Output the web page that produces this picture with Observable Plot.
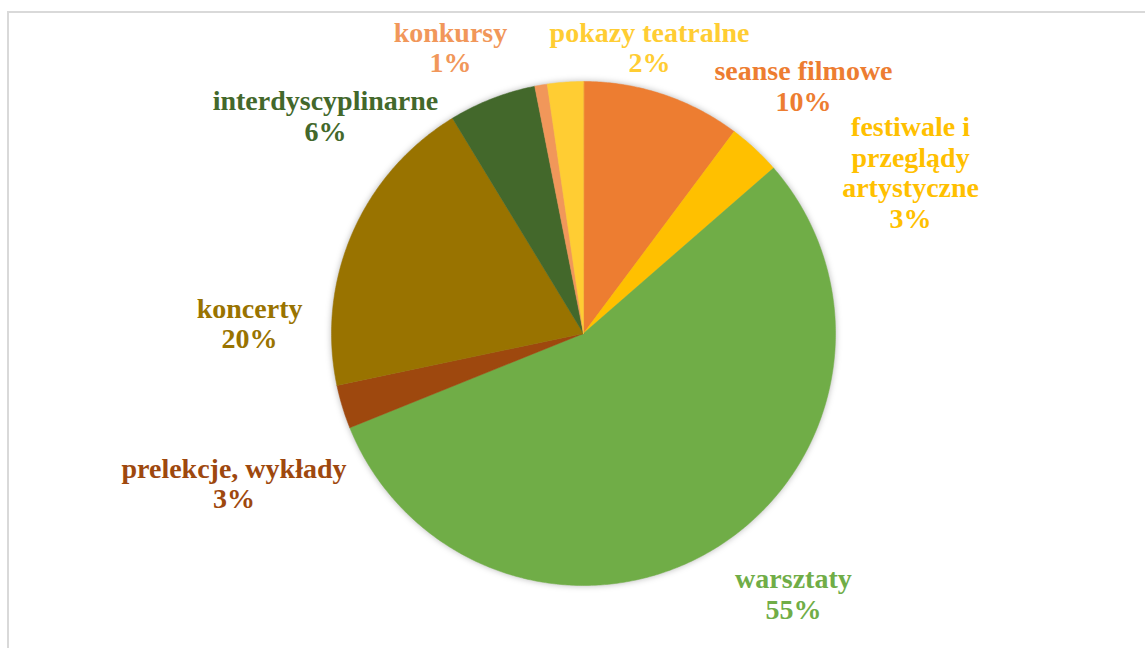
<!DOCTYPE html>
<html>
<head>
<meta charset="utf-8">
<script src="https://cdn.jsdelivr.net/npm/d3@7"></script>
<script src="https://cdn.jsdelivr.net/npm/@observablehq/plot@0.6"></script>
<style>
  html, body { margin: 0; padding: 0; background: #fff; overflow: hidden; }
  #wrap { position: relative; width: 1145px; height: 648px; }
  #frame { position: absolute; left: 7px; top: 11px; width: 1200px; height: 700px; border: 2px solid #d9d9d9; box-sizing: border-box; }
  #chart { position: absolute; left: 0; top: 0; }
  #chart g[aria-label="line"] { filter: drop-shadow(0px 0px 3px rgba(0,0,0,0.28)); }
</style>
</head>
<body>
<div id="wrap"><div id="frame"></div><div id="chart"></div></div>
<script>
// ---- data ----
const categories = ["seanse filmowe", "festiwale i przeglądy artystyczne", "warsztaty", "prelekcje, wykłady", "koncerty", "interdyscyplinarne", "konkursy", "pokazy teatralne"];
const values = [10.2, 3.4, 55.3, 2.8, 19.6, 5.6, 0.8, 2.3];
const colors = ["#ED7D31", "#FFC000", "#70AD47", "#9E480E", "#997300", "#43682B", "#F1975A", "#FFCD33"];

// ---- layout (label anchors in pie-radius units, relative to centre) ----
const labelAnchors = [[0.873, 0.984], [1.298, 0.639], [0.833, -1.032], [-1.387, -0.595], [-1.325, 0.040], [-1.024, 0.865], [-0.528, 1.135], [0.262, 1.135]];
const labelWrap = {"festiwale i przeglądy artystyczne": "festiwale i\nprzeglądy\nartystyczne"};

const W = 1145, H = 648, R = 252, CX = 583, CY = 333;

const rows = categories.map((c, i) => ({cat: c, value: values[i]}));
const total = d3.sum(values);
const arcs = d3.pie().sort(null).value(d => d.value)(rows);

const pts = [];
for (const a of arcs) {
  pts.push({cat: a.data.cat, x: 0, y: 0});
  const n = Math.max(2, Math.ceil((a.endAngle - a.startAngle) / (Math.PI / 360)));
  for (let k = 0; k <= n; k++) {
    const t = a.startAngle + (a.endAngle - a.startAngle) * k / n;
    pts.push({cat: a.data.cat, x: Math.sin(t), y: Math.cos(t)});
  }
}

const fmt = d3.format(".0%");
const labels = rows.map((r, i) => ({
  cat: r.cat,
  x: labelAnchors[i][0],
  y: labelAnchors[i][1],
  text: (labelWrap[r.cat] || r.cat) + "\n" + fmt(r.value / total)
}));

const chart = Plot.plot({
  width: W, height: H,
  margin: 0,
  x: {domain: [-CX / R, (W - CX) / R], axis: null},
  y: {domain: [-(H - CY) / R, CY / R], axis: null},
  color: {domain: categories, range: colors},
  style: {background: "transparent"},
  marks: [
    Plot.line(pts, {x: "x", y: "y", z: "cat", fill: "cat", stroke: "cat", strokeWidth: 0.5, curve: "linear-closed"}),
    Plot.text(labels, {x: "x", y: "y", text: "text", fill: "cat", fontSize: 28, fontWeight: "bold", fontFamily: "'Liberation Serif', serif", lineHeight: 1.09, textAnchor: "middle"})
  ]
});
document.getElementById("chart").appendChild(chart);
</script>
</body>
</html>
